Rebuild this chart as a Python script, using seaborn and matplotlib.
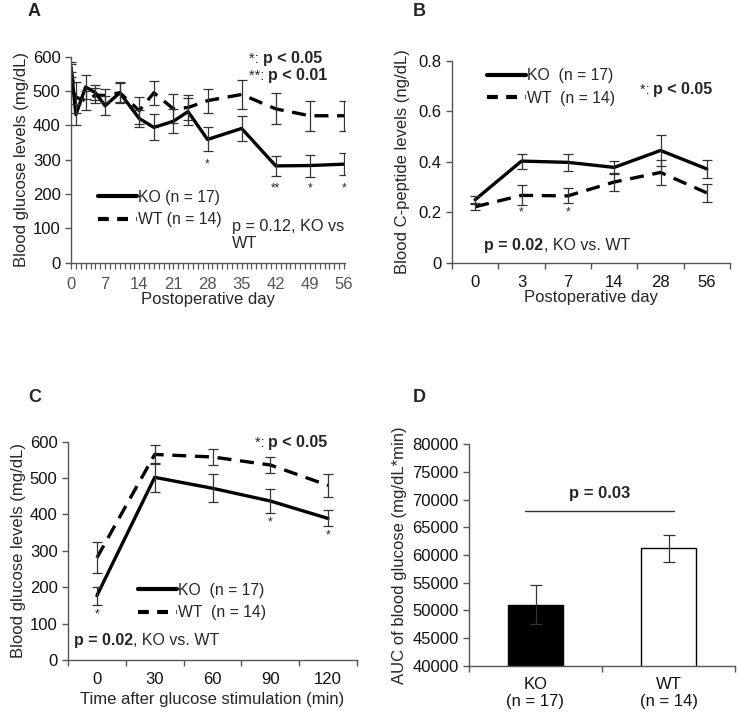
import numpy as np
import pandas as pd
import matplotlib
matplotlib.use("Agg")
import matplotlib.pyplot as plt
import seaborn as sns
from matplotlib.lines import Line2D

sns.set_theme(style="ticks")
plt.rcParams['font.family'] = ['Liberation Sans', 'DejaVu Sans']

# ---------------- Data ----------------
# Panel A: blood glucose over postoperative days
a_days = [0, 1, 3, 5, 7, 10, 14, 17, 21, 24, 28, 35, 42, 49, 56]
a_ko = [570, 431, 512, 495, 457, 495, 420, 394, 412, 440, 359, 391, 282, 283, 287]
a_ko_err = [15, 30, 35, 22, 28, 30, 25, 38, 35, 40, 35, 37, 30, 32, 33]
a_wt = [560, 482, 472, 488, 487, 495, 443, 495, 448, 452, 472, 490, 448, 428, 428]
a_wt_err = [18, 45, 28, 22, 20, 28, 40, 35, 42, 35, 35, 43, 45, 43, 43]

# Panel B: C-peptide
b_days = ["0", "3", "7", "14", "28", "56"]
b_ko = [0.25, 0.403, 0.398, 0.378, 0.445, 0.372]
b_ko_err = [0.015, 0.03, 0.035, 0.025, 0.06, 0.035]
b_wt = [0.222, 0.267, 0.265, 0.32, 0.358, 0.277]
b_wt_err = [0.012, 0.04, 0.03, 0.035, 0.05, 0.035]

# Panel C: glucose tolerance
c_times = ["0", "30", "60", "90", "120"]
c_ko = [177, 502, 472, 437, 389]
c_ko_err = [25, 40, 38, 33, 22]
c_wt = [281, 565, 558, 536, 480]
c_wt_err = [42, 25, 23, 23, 32]

# Panel D: AUC
d_groups = ["KO", "WT"]
d_labels = ["KO\n(n = 17)", "WT\n(n = 14)"]
d_auc = [51000, 61200]
d_err = [3500, 2500]

LW = 2.4
DASH = (4.2, 2.6)
ECOL = "#333333"
SPCOL = "#555555"
FS = 10.5

fig = plt.figure(figsize=(7.42, 7.14), dpi=100)
W, H = 742, 714

def ax_px(x0, x1, ytop, ybot):
    return fig.add_axes([x0 / W, 1 - ybot / H, (x1 - x0) / W, (ybot - ytop) / H])

def style(ax):
    sns.despine(ax=ax)
    for s in ("left", "bottom"):
        ax.spines[s].set_color(SPCOL)
        ax.spines[s].set_linewidth(1.0)
    ax.tick_params(colors=SPCOL, labelcolor="#111111", labelsize=FS + 1.5, length=4, width=1.0)

def lines(ax, x, ko, koe, wt, wte):
    df = pd.DataFrame({"x": list(x) * 2, "y": list(ko) + list(wt),
                       "g": ["KO"] * len(ko) + ["WT"] * len(wt)})
    sns.lineplot(data=df, x="x", y="y", hue="g", style="g",
                 palette={"KO": "black", "WT": "black"},
                 dashes={"KO": "", "WT": DASH}, linewidth=LW, legend=False, ax=ax,
                 errorbar=None)
    ax.errorbar(x, ko, yerr=koe, fmt="none", ecolor=ECOL, elinewidth=0.9, capsize=3.5, capthick=0.9)
    ax.errorbar(x, wt, yerr=wte, fmt="none", ecolor=ECOL, elinewidth=0.9, capsize=3.5, capthick=0.9)

def legend(ax, labels, anchor, spacing=0.6):
    h = [Line2D([], [], color="black", lw=LW + 0.6),
         Line2D([], [], color="black", lw=LW + 0.6, dashes=(2.6, 2.0))]
    ax.legend(h, labels, loc="upper left", bbox_to_anchor=anchor, frameon=False,
              handlelength=2.5, handletextpad=0.05, fontsize=FS + 0.8,
              labelspacing=spacing, borderaxespad=0, borderpad=0)

def sigtext(ax, x, y, star, bold, fs=FS):
    t = ax.text(x, y, star + ": ", fontsize=fs, ha="left", va="baseline", clip_on=False)
    ax.annotate(bold, xy=(1, 0), xycoords=t, fontsize=fs + 1, fontweight="bold",
                ha="left", va="bottom", annotation_clip=False)

def ptext(ax, x, y, bold, rest, fs=FS):
    t = ax.text(x, y, bold, fontsize=fs + 1, fontweight="bold", ha="left",
                va="baseline", clip_on=False)
    ax.annotate(rest, xy=(1, 0), xycoords=t, fontsize=fs + 1, ha="left",
                va="bottom", annotation_clip=False)

# ---------------- Panel A ----------------
axA = ax_px(71, 345, 56.7, 262.7)
lines(axA, a_days, a_ko, a_ko_err, a_wt, a_wt_err)
style(axA)
axA.set_xlim(0, 56.2)
axA.set_ylim(0, 600)
axA.set_yticks(range(0, 601, 100))
axA.set_xticks(range(0, 57, 7))
axA.set_xticks(range(0, 57), minor=True)
axA.tick_params(axis="x", which="both", length=4, width=0.9, colors=SPCOL, pad=6)
axA.set_xlabel("Postoperative day", fontsize=FS + 1.5, labelpad=0)
axA.set_ylabel("Blood glucose levels (mg/dL)", fontsize=FS + 1.5, labelpad=3)
legend(axA, ["KO (n = 17)", "WT (n = 14)"], (0.097, 0.355), spacing=0.5)
sigtext(axA, 36.5, 583, "*", "p < 0.05")
sigtext(axA, 36.5, 532, "**", "p < 0.01")
axA.text(33.0, 80, "p = 0.12, KO vs\nWT", fontsize=FS + 1.2, ha="left", va="center", linespacing=1.15)
for d, v, s in [(28, 285, "*"), (42, 215, "**"), (49, 215, "*"), (56, 215, "*")]:
    axA.text(d, v, s, fontsize=8.5, ha="center", va="center")
fig.text(28 / W, 1 - 12 / H, "A", fontsize=13, fontweight="bold", ha="left", va="center")

# ---------------- Panel B ----------------
axB = ax_px(452, 730, 61, 262.7)
xb = np.arange(len(b_days))
lines(axB, xb, b_ko, b_ko_err, b_wt, b_wt_err)
style(axB)
axB.set_xlim(-0.5, len(b_days) - 0.5)
axB.set_ylim(0, 0.8)
axB.set_yticks([0, 0.2, 0.4, 0.6, 0.8])
axB.set_yticklabels(["0", "0.2", "0.4", "0.6", "0.8"])
axB.set_xticks(xb)
axB.set_xticklabels(b_days)
axB.tick_params(axis="x", which="major", length=0, pad=9)
axB.set_xticks(np.arange(-0.5, len(b_days)), minor=True)
axB.tick_params(axis="x", which="minor", length=4, width=1.0, colors=SPCOL)
axB.set_xlabel("Postoperative day", fontsize=FS + 1.5, labelpad=0)
axB.set_ylabel("Blood C-peptide levels (ng/dL)", fontsize=FS + 1.5, labelpad=6)
legend(axB, ["KO  (n = 17)", "WT  (n = 14)"], (0.125, 0.965), spacing=0.5)
sigtext(axB, 3.55, 0.668, "*", "p < 0.05")
ptext(axB, 0.2, 0.05, "p = 0.02", ", KO vs. WT")
for i, v in [(1, 0.2), (2, 0.2)]:
    axB.text(i, v, "*", fontsize=8.5, ha="center", va="center")
fig.text(413 / W, 1 - 12 / H, "B", fontsize=13, fontweight="bold", ha="left", va="center")

# ---------------- Panel C ----------------
axC = ax_px(68, 357, 441.7, 660)
xc = np.arange(len(c_times))
lines(axC, xc, c_ko, c_ko_err, c_wt, c_wt_err)
style(axC)
axC.set_xlim(-0.5, len(c_times) - 0.5)
axC.set_ylim(0, 600)
axC.set_yticks(range(0, 601, 100))
axC.set_xticks(xc)
axC.set_xticklabels(c_times)
axC.tick_params(axis="x", which="major", length=0, pad=9)
axC.set_xticks(np.arange(-0.5, len(c_times)), minor=True)
axC.tick_params(axis="x", which="minor", length=4, width=1.0, colors=SPCOL)
axC.set_xlabel("Time after glucose stimulation (min)", fontsize=FS + 1.5, labelpad=3)
axC.set_ylabel("Blood glucose levels (mg/dL)", fontsize=FS + 1.5, labelpad=3)
legend(axC, ["KO  (n = 17)", "WT  (n = 14)"], (0.243, 0.355), spacing=0.5)
sigtext(axC, 2.73, 585, "*", "p < 0.05")
ptext(axC, -0.4, 42, "p = 0.02", ", KO vs. WT")
for i, v in [(0, 124), (3, 377), (4, 341)]:
    axC.text(i, v, "*", fontsize=8.5, ha="center", va="center")
fig.text(28 / W, 1 - 398 / H, "C", fontsize=13, fontweight="bold", ha="left", va="center")

# ---------------- Panel D ----------------
axD = ax_px(469, 735, 444.3, 665.7)
dfd = pd.DataFrame({"g": d_groups, "auc": d_auc})
sns.barplot(data=dfd, x="g", y="auc", hue="g", palette={"KO": "black", "WT": "white"},
            width=0.41, edgecolor="black", linewidth=1.0, legend=False, ax=axD)
axD.errorbar([0, 1], d_auc, yerr=d_err, fmt="none", ecolor=ECOL, elinewidth=0.9,
             capsize=4, capthick=0.9)
style(axD)
axD.set_xlim(-0.5, 1.5)
axD.set_ylim(40000, 80000)
axD.set_yticks(range(40000, 80001, 5000))
axD.set_xticks([0, 1])
axD.set_xticklabels(d_labels, fontsize=FS + 1.5, linespacing=1.2)
axD.tick_params(axis="x", which="major", length=0, pad=8)
axD.set_xticks([-0.5, 0.5, 1.5], minor=True)
axD.tick_params(axis="x", which="minor", length=4, width=1.0, colors=SPCOL)
axD.set_xlabel("")
axD.set_ylabel("AUC of blood glucose (mg/dL*min)", fontsize=FS + 1.5, labelpad=4)
axD.plot([-0.08, 1.04], [68000, 68000], color="#333333", lw=1.0)
axD.text(0.48, 69800, "p = 0.03", fontsize=FS + 1.5, fontweight="bold", ha="center", va="bottom")
fig.text(413 / W, 1 - 398 / H, "D", fontsize=13, fontweight="bold", ha="left", va="center")

fig.savefig("out.png", dpi=100, facecolor="white")
